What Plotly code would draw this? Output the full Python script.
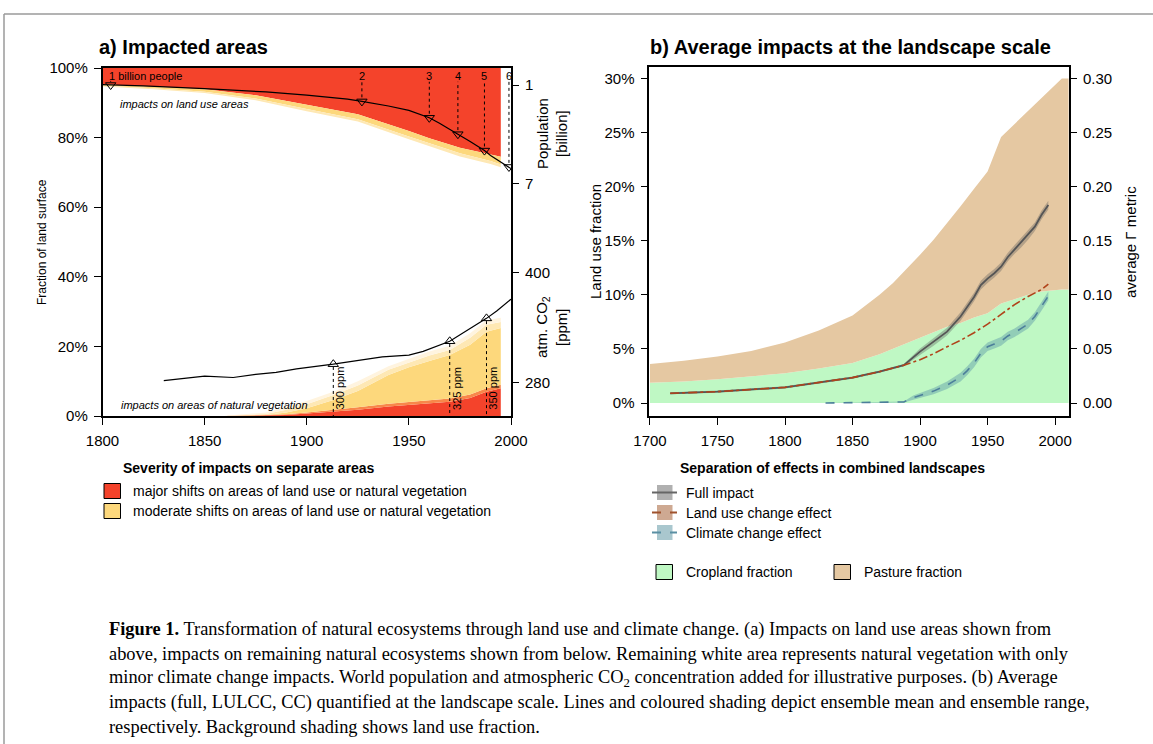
import plotly.graph_objects as go

W, H = 1153, 744
def px(x): return x / W
def py(y): return 1 - y / H

FONT = "Liberation Sans, Arial, Helvetica, sans-serif"
SERIF = "Liberation Serif, Times New Roman, serif"

# ---------------- panel a data ----------------
top_years = [1800, 1825, 1850, 1875, 1900, 1925, 1950, 1960, 1975, 1990, 1995]
top_ceiling = [100, 100, 100, 100, 100, 100, 100, 100, 100, 100, 100]
top_red_lower = [95.3, 94.7, 93.9, 92.2, 89.4, 86.7, 81.9, 79.8, 77.1, 75.2, 74.5]
top_yellow_lower = [94.9, 94.2, 93.2, 91.2, 88.2, 85.3, 80.3, 78.4, 75.5, 73.3, 72.3]
top_light_lower = [94.7, 93.9, 92.8, 90.7, 87.6, 84.6, 79.5, 77.6, 74.6, 72.4, 71.5]

bot_years = [1860, 1880, 1890, 1900, 1913, 1925, 1940, 1950, 1960, 1970, 1980, 1988, 1995]
bot_red = [0, 0.1, 0.3, 0.7, 1.2, 1.8, 2.7, 3.2, 3.6, 4.1, 5.2, 7.0, 8.0]
bot_orange = [0, 0.2, 0.5, 1.0, 1.7, 2.5, 3.5, 4.0, 4.5, 5.0, 6.2, 8.0, 9.0]
bot_yellow = [0, 0.3, 1.0, 2.2, 4.6, 7.2, 11.8, 14.0, 15.8, 17.5, 20.5, 24.2, 25.3]
bot_light1 = [0, 0.6, 1.8, 3.4, 6.0, 8.8, 13.3, 15.4, 17.4, 19.0, 22.5, 26.2, 27.0]
bot_light2 = [0.1, 1.0, 2.6, 4.3, 7.0, 10.0, 14.3, 16.4, 18.5, 20.2, 23.8, 27.5, 28.2]

pop_years = [1800, 1820, 1850, 1880, 1900, 1910, 1920, 1927, 1940, 1950, 1955, 1960,
             1965, 1970, 1974, 1980, 1987, 1990, 1995, 1999, 2000]
pop_vals = [0.98, 1.05, 1.22, 1.42, 1.62, 1.73, 1.86, 2.0, 2.28, 2.55, 2.77, 3.0,
            3.33, 3.68, 4.0, 4.44, 5.0, 5.3, 5.7, 6.0, 6.1]
pop_mark_years = [1804, 1927, 1960, 1974, 1987, 1999]
pop_mark_vals = [1, 2, 3, 4, 5, 6]
pop_mark_labels = ["1 billion people", "2", "3", "4", "5", "6"]

co2_years = [1830, 1850, 1864, 1875, 1885, 1895, 1913, 1925, 1937, 1950, 1957, 1970,
             1978, 1988, 1993, 2000]
co2_vals = [282, 287, 285.5, 289, 291, 295, 300, 304, 308, 310, 314, 325, 336, 350, 358, 371]
co2_mark_years = [1913, 1970, 1988]
co2_mark_vals = [300, 325, 350]
co2_mark_labels = ["300 ppm", "325 ppm", "350 ppm"]

a_xticks = [1800, 1850, 1900, 1950, 2000]
a_yticks = [0, 20, 40, 60, 80, 100]
a_yticklabels = ["0%", "20%", "40%", "60%", "80%", "100%"]
pop_ticks = [1, 7]
co2_ticks = [280, 400]

# ---------------- panel b data ----------------
lu_years = [1700, 1725, 1750, 1775, 1800, 1825, 1850, 1870, 1880, 1890, 1900, 1910, 1920,
            1930, 1940, 1950, 1960, 1970, 1980, 1990, 2000, 2005, 2010]
crop_frac = [1.88, 2.0, 2.2, 2.45, 2.75, 3.2, 3.7, 4.5, 5.0, 5.5, 6.0, 6.5, 7.05,
             7.4, 7.9, 8.3, 9.2, 9.6, 10.0, 10.3, 10.45, 10.5, 10.5]
total_lu_frac = [3.6, 3.9, 4.3, 4.8, 5.6, 6.7, 8.1, 10.0, 11.1, 12.4, 13.7, 15.1, 16.6,
                 18.2, 19.8, 21.4, 24.6, 25.8, 27.0, 28.2, 29.4, 30.0, 30.0]

full_years = [1715, 1750, 1800, 1850, 1870, 1888, 1900, 1910, 1920, 1930, 1940, 1945, 1950,
              1955, 1960, 1965, 1970, 1975, 1980, 1985, 1990, 1993, 1995]
full_gamma = [0.009, 0.0105, 0.0145, 0.0235, 0.029, 0.035, 0.0475, 0.0565, 0.066, 0.080,
              0.098, 0.109, 0.115, 0.120, 0.126, 0.135, 0.142, 0.148, 0.155, 0.163, 0.174,
              0.179, 0.183]
full_lo = [0.008, 0.0095, 0.0135, 0.0225, 0.028, 0.034, 0.0445, 0.053, 0.0625, 0.076,
           0.094, 0.105, 0.111, 0.116, 0.122, 0.131, 0.138, 0.144, 0.151, 0.159, 0.170,
           0.175, 0.179]
full_hi = [0.010, 0.0115, 0.0155, 0.0245, 0.030, 0.036, 0.0505, 0.060, 0.0695, 0.084,
           0.102, 0.113, 0.119, 0.124, 0.130, 0.139, 0.146, 0.152, 0.159, 0.167, 0.178,
           0.183, 0.187]

luc_years = [1715, 1750, 1800, 1850, 1870, 1888, 1900, 1910, 1920, 1930, 1940, 1950, 1960,
             1970, 1980, 1990, 1995]
luc_gamma = [0.009, 0.0105, 0.0145, 0.0235, 0.029, 0.035, 0.040, 0.0455, 0.052, 0.058,
             0.065, 0.073, 0.082, 0.091, 0.0985, 0.105, 0.110]

cc_years = [1830, 1860, 1888, 1895, 1900, 1910, 1920, 1930, 1935, 1940, 1945, 1950, 1955,
            1960, 1965, 1970, 1975, 1980, 1985, 1990, 1995]
cc_gamma = [0.0, 0.0005, 0.001, 0.005, 0.007, 0.011, 0.0165, 0.024, 0.030, 0.037, 0.046,
            0.052, 0.0545, 0.057, 0.062, 0.065, 0.069, 0.073, 0.080, 0.089, 0.099]
cc_lo = [0.0, 0.0, 0.0005, 0.003, 0.0045, 0.008, 0.013, 0.020, 0.026, 0.033, 0.042,
         0.048, 0.0505, 0.053, 0.058, 0.061, 0.065, 0.069, 0.076, 0.085, 0.095]
cc_hi = [0.0, 0.001, 0.0015, 0.007, 0.0095, 0.014, 0.020, 0.028, 0.034, 0.041, 0.050,
         0.056, 0.0585, 0.061, 0.066, 0.069, 0.073, 0.077, 0.084, 0.093, 0.103]

b_xticks = [1700, 1750, 1800, 1850, 1900, 1950, 2000]
b_yticks = [0, 5, 10, 15, 20, 25, 30]
b_yticklabels = ["0%", "5%", "10%", "15%", "20%", "25%", "30%"]
gamma_ticks = [0.0, 0.05, 0.10, 0.15, 0.20, 0.25, 0.30]
gamma_ticklabels = ["0.00", "0.05", "0.10", "0.15", "0.20", "0.25", "0.30"]

# colours
RED = "#F4432B"
ORANGE = "#F8874A"
YELLOW = "#FDD87C"
LIGHT1 = "#FEE8B4"
LIGHT2 = "#FFF4DF"
CROP = "#BFF8C4"
PASTURE = "#E5C8A2"
FULL_C = "#555555"
LUC_C = "#B0431A"
CC_C = "#4C7F9A"

fig = go.Figure()

def area(x, y, color, fill, xa="x", ya="y"):
    fig.add_trace(go.Scatter(x=x, y=y, mode="lines", line=dict(width=0, color=color),
                             fill=fill, fillcolor=color, xaxis=xa, yaxis=ya,
                             hoverinfo="skip", showlegend=False))

# panel a: impacts on land use areas (from above)
area(top_years, top_ceiling, RED, None)
area(top_years, top_red_lower, RED, "tonexty")
area(top_years, top_yellow_lower, YELLOW, "tonexty")
area(top_years, top_light_lower, LIGHT1, "tonexty")
# panel a: impacts on natural vegetation (from below)
area(bot_years, bot_red, RED, "tozeroy")
area(bot_years, bot_orange, ORANGE, "tonexty")
area(bot_years, bot_yellow, YELLOW, "tonexty")
area(bot_years, bot_light1, LIGHT1, "tonexty")
area(bot_years, bot_light2, LIGHT2, "tonexty")

# population
fig.add_trace(go.Scatter(x=pop_years, y=pop_vals, mode="lines", line=dict(color="black", width=1.2),
                         xaxis="x", yaxis="y2", showlegend=False))
fig.add_trace(go.Scatter(x=pop_mark_years, y=pop_mark_vals, mode="markers",
                         marker=dict(symbol="triangle-down-open", size=9, color="black",
                                     line=dict(width=1)),
                         xaxis="x", yaxis="y2", showlegend=False))
# CO2
fig.add_trace(go.Scatter(x=co2_years, y=co2_vals, mode="lines", line=dict(color="black", width=1.2),
                         xaxis="x", yaxis="y3", showlegend=False))
fig.add_trace(go.Scatter(x=co2_mark_years, y=co2_mark_vals, mode="markers",
                         marker=dict(symbol="triangle-up-open", size=9, color="black",
                                     line=dict(width=1)),
                         xaxis="x", yaxis="y3", showlegend=False))

# panel b: land use fractions
area(lu_years, crop_frac, CROP, "tozeroy", "x2", "y4")
area(lu_years, total_lu_frac, PASTURE, "tonexty", "x2", "y4")

# panel b: ensemble ranges and means (gamma axis)
area(full_years, full_lo, "rgba(90,90,90,0)", None, "x2", "y5")
area(full_years, full_hi, "rgba(90,90,90,0.35)", "tonexty", "x2", "y5")
area(cc_years, cc_lo, "rgba(80,140,165,0)", None, "x2", "y5")
area(cc_years, cc_hi, "rgba(80,140,165,0.4)", "tonexty", "x2", "y5")

fig.add_trace(go.Scatter(x=full_years, y=full_gamma, mode="lines",
                         line=dict(color=FULL_C, width=1.8), xaxis="x2", yaxis="y5", showlegend=False))
fig.add_trace(go.Scatter(x=luc_years, y=luc_gamma, mode="lines",
                         line=dict(color=LUC_C, width=1.6, dash="dashdot"), xaxis="x2", yaxis="y5",
                         showlegend=False))
fig.add_trace(go.Scatter(x=cc_years, y=cc_gamma, mode="lines",
                         line=dict(color=CC_C, width=1.6, dash="dash"), xaxis="x2", yaxis="y5",
                         showlegend=False))

# ---------------- layout ----------------
POP_RANGE = [21.2, -0.04]
CO2_RANGE = [243.5, 623.1]

axis_common = dict(showline=True, linecolor="black", linewidth=1.5, ticks="outside",
                   ticklen=7, tickwidth=1, tickcolor="black", showgrid=False, zeroline=False,
                   automargin=False,
                   tickfont=dict(family=FONT, size=15, color="black"), ticklabelstandoff=3)

ya_dom = [py(416), py(68)]
fig.update_layout(
    width=W, height=H, autosize=False,
    margin=dict(l=0, r=0, t=0, b=0, pad=0),
    paper_bgcolor="white", plot_bgcolor="white",
    showlegend=False,
    xaxis=dict(domain=[px(102.5), px(511)], range=[1800, 2000], anchor="y",
               tickvals=a_xticks, mirror=True, **axis_common),
    yaxis=dict(domain=ya_dom, range=[0, 100], anchor="x", tickvals=a_yticks,
               ticktext=a_yticklabels, mirror=True, **axis_common),
    yaxis2=dict(overlaying="y", side="right", anchor="x", range=POP_RANGE,
                tickvals=pop_ticks, **{**axis_common, "showline": False}),
    yaxis3=dict(overlaying="y", side="right", anchor="x", range=CO2_RANGE,
                tickvals=co2_ticks, **{**axis_common, "showline": False}),
    xaxis2=dict(domain=[px(649.3), px(1069)], range=[1699.5, 2010.3], anchor="y4",
                tickvals=b_xticks, mirror=True, **axis_common),
    yaxis4=dict(domain=[py(416), py(67.3)], range=[-1.2, 31.04], anchor="x2",
                tickvals=b_yticks, ticktext=b_yticklabels, mirror=True, **axis_common),
    yaxis5=dict(overlaying="y4", side="right", anchor="x2", range=[-0.012, 0.3104],
                tickvals=gamma_ticks, ticktext=gamma_ticklabels,
                **{**axis_common, "showline": False}),
)

shapes = []
annotations = []

def ann(text, x, y, size=15, xanchor="center", yanchor="middle", angle=0, bold=False,
        italic=False, family=FONT, xref="paper", yref="paper", xshift=0, yshift=0):
    if bold:
        text = "<b>" + text + "</b>"
    if italic:
        text = "<i>" + text + "</i>"
    annotations.append(dict(text=text, x=x, y=y, xref=xref, yref=yref, showarrow=False,
                            xanchor=xanchor, yanchor=yanchor, textangle=angle,
                            xshift=xshift, yshift=yshift,
                            font=dict(family=family, size=size, color="black")))

# dotted drop lines
POP_LABEL_LEVEL = 0.45
for yr, v, lab in zip(pop_mark_years, pop_mark_vals, pop_mark_labels):
    shapes.append(dict(type="line", xref="x", yref="y2", x0=yr, x1=yr, y0=v - 0.25,
                       y1=POP_LABEL_LEVEL + 0.35, line=dict(color="black", width=1, dash="dot")))
    if len(lab) > 1:
        ann(lab, yr, POP_LABEL_LEVEL, size=11, xanchor="left", xref="x", yref="y2", xshift=-4)
    else:
        ann(lab, yr, POP_LABEL_LEVEL, size=11, xref="x", yref="y2")
for yr, v, lab in zip(co2_mark_years, co2_mark_vals, co2_mark_labels):
    shapes.append(dict(type="line", xref="x", yref="y3", x0=yr, x1=yr, y0=v - 3,
                       y1=CO2_RANGE[0], line=dict(color="black", width=1, dash="dot")))
    ann(lab, yr, 8, size=11, angle=-90, xref="x", yref="y", xshift=7)

ann("impacts on land use areas", px(118), py(103.5), size=11, xanchor="left", italic=True)
ann("impacts on areas of natural vegetation", px(119), py(404.5), size=11, xanchor="left",
    italic=True)

# titles
ann("a) Impacted areas", px(97), py(47), size=20, xanchor="left", bold=True)
ann("b) Average impacts at the landscape scale", px(648), py(47), size=20, xanchor="left",
    bold=True)

# axis titles
ann("Fraction of land surface", px(42), py(242), size=12, angle=-90)
ann("Population", px(542), py(134), size=15, angle=-90)
ann("[billion]", px(561), py(134), size=15, angle=-90)
ann("atm. CO<sub>2</sub>", px(543), py(327), size=15, angle=-90)
ann("[ppm]", px(562), py(327), size=15, angle=-90)
ann("Land use fraction", px(596), py(242), size=15, angle=-90)
ann("average Γ metric", px(1131), py(242), size=15, angle=-90)

# legend a
ann("Severity of impacts on separate areas", px(121), py(468), size=14, xanchor="left",
    bold=True)
for (yc, col, txt) in [(491, RED, "major shifts on areas of land use or natural vegetation"),
                       (511, YELLOW, "moderate shifts on areas of land use or natural vegetation")]:
    shapes.append(dict(type="rect", xref="paper", yref="paper", x0=px(104), x1=px(120.5),
                       y0=py(yc + 7.5), y1=py(yc - 7.5), fillcolor=col,
                       line=dict(color="black", width=1)))
    ann(txt, px(131), py(yc), size=14, xanchor="left")

# legend b
ann("Separation of effects in combined landscapes", px(678), py(468), size=14, xanchor="left",
    bold=True)
for (yc, boxc, linec, dash, txt) in [
        (492.5, "rgba(150,150,150,0.75)", "#666666", "solid", "Full impact"),
        (512.5, "rgba(190,140,110,0.75)", "#A0522D", "dash", "Land use change effect"),
        (532.5, "rgba(140,180,190,0.75)", "#5A8FA3", "dash", "Climate change effect")]:
    shapes.append(dict(type="rect", xref="paper", yref="paper", x0=px(657), x1=px(672.5),
                       y0=py(yc + 7.5), y1=py(yc - 7.5), fillcolor=boxc, line=dict(width=0)))
    shapes.append(dict(type="line", xref="paper", yref="paper", x0=px(652), x1=px(677),
                       y0=py(yc), y1=py(yc), line=dict(color=linec, width=2, dash=dash)))
    ann(txt, px(684), py(yc), size=14, xanchor="left")
for (x0, col, txt) in [(656, CROP, "Cropland fraction"), (834, PASTURE, "Pasture fraction")]:
    shapes.append(dict(type="rect", xref="paper", yref="paper", x0=px(x0), x1=px(x0 + 16.5),
                       y0=py(579.5), y1=py(564.5), fillcolor=col,
                       line=dict(color="black", width=1)))
    ann(txt, px(x0 + 28), py(572), size=14, xanchor="left")

# figure frame
shapes.append(dict(type="line", xref="paper", yref="paper", x0=px(4), x1=1, y0=py(14), y1=py(14),
                   line=dict(color="#9a9a9a", width=1.5)))
shapes.append(dict(type="line", xref="paper", yref="paper", x0=px(4), x1=px(4), y0=py(14), y1=0,
                   line=dict(color="#9a9a9a", width=1.5)))

# caption
caption_lines = [
    "<b>Figure 1.</b> Transformation of natural ecosystems through land use and climate change. (a) Impacts on land use areas shown from",
    "above, impacts on remaining natural ecosystems shown from below. Remaining white area represents natural vegetation with only",
    "minor climate change impacts. World population and atmospheric CO<sub>2</sub> concentration added for illustrative purposes. (b) Average",
    "impacts (full, LULCC, CC) quantified at the landscape scale. Lines and coloured shading depict ensemble mean and ensemble range,",
    "respectively. Background shading shows land use fraction.",
]
caption_y = [629, 653.5, 678, 702.5, 727]
for t, yy in zip(caption_lines, caption_y):
    ann(t, px(107), py(yy), size=18.4, xanchor="left", family=SERIF)

fig.update_layout(shapes=shapes, annotations=annotations)
fig.write_html("out.html", config={"displayModeBar": False},
               post_script="document.body.style.margin='0px';document.body.style.overflow='hidden';")
